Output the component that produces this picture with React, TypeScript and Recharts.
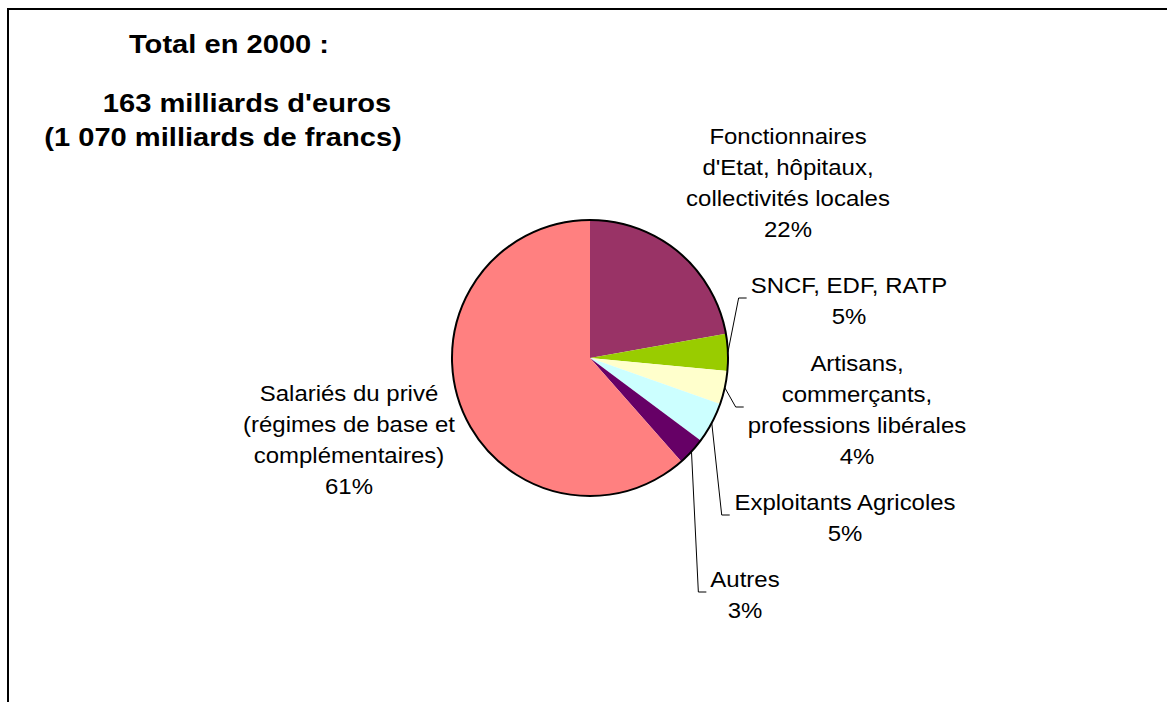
import { Cell, Pie, PieChart } from 'recharts';

// Répartition des retraites versées en 2000, par régime
const CATEGORIES = [
  ['Fonctionnaires', "d'Etat, hôpitaux,", 'collectivités locales'],
  ['SNCF, EDF, RATP'],
  ['Artisans,', 'commerçants,', 'professions libérales'],
  ['Exploitants Agricoles'],
  ['Autres'],
  ['Salariés du privé', '(régimes de base et', 'complémentaires)'],
];
const SHARES = [22.2, 4.3, 3.9, 4.8, 3.3, 61.5];
const PCT_LABELS = ['22%', '5%', '4%', '5%', '3%', '61%'];
const TITLE_LINES = ['Total en 2000 :', "163 milliards d'euros", '(1 070 milliards de francs)'];

const COLORS = ['#993366', '#99CC00', '#FFFFCC', '#CCFFFF', '#660066', '#FF8080'];

// label block centres, relative to the pie centre (Excel labels were dragged by hand)
const LABEL_POS: [number, number][] = [
  [198, -175],
  [259, -57],
  [267, 52],
  [255, 160],
  [155, 237],
  [-241, 82],
];
const HAS_LEADER = [false, true, true, true, true, false];

const TITLE_X = [229, 247, 223];
const TITLE_Y = [53, 112, 146];

const W = 1167;
const H = 702;
const CX = 590;
const CY = 358;
const R = 138;

const FONT = "'Liberation Sans', Arial, sans-serif";
const LABEL_SIZE = 22;
const LABEL_SX = 1.09;
const LINE_H = 31;
const TITLE_SIZE = 26;
const TITLE_SX = 1.12;

let ctx: CanvasRenderingContext2D | null = null;
function textWidth(s: string) {
  if (!ctx) ctx = document.createElement('canvas').getContext('2d');
  if (!ctx) return s.length * LABEL_SIZE * 0.5;
  ctx.font = `${LABEL_SIZE}px 'Liberation Sans'`;
  return ctx.measureText(s).width * LABEL_SX;
}

const data = CATEGORIES.map((c, i) => ({ name: c.join(' '), value: SHARES[i] }));

function renderLabel(props: any) {
  const { cx, cy, midAngle, outerRadius, index } = props;
  const lines = [...CATEGORIES[index], PCT_LABELS[index]];
  const [dx, dy] = LABEL_POS[index];
  const x = cx + dx;
  const y = cy + dy;
  const left = x - Math.max(...lines.map(textWidth)) / 2;
  const rad = Math.PI / 180;
  const sx = cx + outerRadius * Math.cos(-midAngle * rad);
  const sy = cy + outerRadius * Math.sin(-midAngle * rad);
  return (
    <g key={`lbl-${index}`}>
      {HAS_LEADER[index] && (
        <polyline
          points={`${sx},${sy} ${left - 12},${y - 3} ${left - 4},${y - 3}`}
          fill="none"
          stroke="#000"
          strokeWidth={1}
        />
      )}
      {lines.map((ln, i) => (
        <text
          key={i}
          transform={`translate(${x},${y + (i - (lines.length - 1) / 2) * LINE_H}) scale(${LABEL_SX},1)`}
          textAnchor="middle"
          dominantBaseline="central"
          fontFamily={FONT}
          fontSize={LABEL_SIZE}
          fill="#000"
        >
          {ln}
        </text>
      ))}
    </g>
  );
}

export default function App() {
  return (
    <div style={{ position: 'absolute', left: 0, top: 0, width: W, height: H, background: '#fff', overflow: 'hidden' }}>
      <PieChart width={W} height={H} margin={{ top: 0, right: 0, bottom: 0, left: 0 }}>
        <Pie
          data={data}
          dataKey="value"
          cx={CX}
          cy={CY}
          outerRadius={R}
          startAngle={90}
          endAngle={-270}
          stroke="none"
          label={renderLabel}
          labelLine={false}
          isAnimationActive={false}
        >
          {data.map((_, i) => (
            <Cell key={i} fill={COLORS[i]} stroke="none" />
          ))}
        </Pie>
        {/* outline of the disc, no separators between slices */}
        <Pie
          data={[{ value: 1 }]}
          dataKey="value"
          cx={CX}
          cy={CY}
          innerRadius={R}
          outerRadius={R}
          startAngle={90}
          endAngle={-270}
          fill="none"
          stroke="#000"
          strokeWidth={2}
          label={false}
          labelLine={false}
          isAnimationActive={false}
        />
      </PieChart>
      <svg width={W} height={H} style={{ position: 'absolute', left: 0, top: 0, pointerEvents: 'none' }}>
        <line x1={8} y1={8} x2={8} y2={H} stroke="#000" strokeWidth={2} />
        <line x1={7} y1={9} x2={W} y2={9} stroke="#000" strokeWidth={2} />
        {TITLE_LINES.map((t, i) => (
          <text
            key={i}
            transform={`translate(${TITLE_X[i]},${TITLE_Y[i]}) scale(${TITLE_SX},1)`}
            textAnchor="middle"
            fontFamily={FONT}
            fontWeight="bold"
            fontSize={TITLE_SIZE}
            fill="#000"
          >
            {t}
          </text>
        ))}
      </svg>
    </div>
  );
}
